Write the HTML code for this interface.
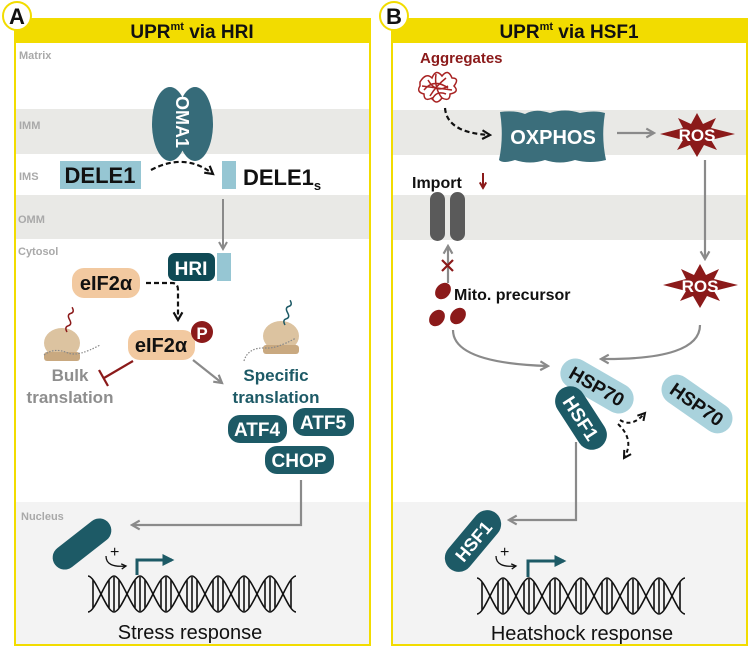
<!DOCTYPE html>
<html><head><meta charset="utf-8"><style>
html,body{margin:0;padding:0;background:#fff}
svg{display:block}
text{font-family:"Liberation Sans",Arial,sans-serif;font-weight:bold}
text.n{font-weight:normal}
</style></head><body>
<svg width="750" height="650" viewBox="0 0 750 650" xmlns="http://www.w3.org/2000/svg">
<defs>
<marker id="ag" viewBox="0 0 10 10" refX="8" refY="5" markerWidth="5" markerHeight="5" orient="auto"><path d="M1,1 L8,5 L1,9" fill="none" stroke="#8a8a8a" stroke-width="2"/></marker>
<marker id="ak" viewBox="0 0 10 10" refX="8" refY="5" markerWidth="5" markerHeight="5" orient="auto"><path d="M1,1 L8,5 L1,9" fill="none" stroke="#111" stroke-width="2"/></marker>
<marker id="at" viewBox="0 0 10 10" refX="8" refY="5" markerWidth="4" markerHeight="4" orient="auto"><path d="M0,0 L10,5 L0,10z" fill="#1d5a66"/></marker>
<marker id="ar" viewBox="0 0 10 10" refX="8" refY="5" markerWidth="4" markerHeight="4" orient="auto"><path d="M1,1 L8,5 L1,9" fill="none" stroke="#8b1a1a" stroke-width="2.5"/></marker>
<g id="dna" fill="none" stroke="#111" stroke-width="1.6">
<path d="M0,0 C8,0 18,36 26,36 C34,36 44,0 52,0 C60,0 70,36 78,36 C86,36 96,0 104,0 C112,0 122,36 130,36 C138,36 148,0 156,0 C164,0 174,36 182,36 C190,36 200,0 208,0"/>
<path d="M0,36 C8,36 18,0 26,0 C34,0 44,36 52,36 C60,36 70,0 78,0 C86,0 96,36 104,36 C112,36 122,0 130,0 C138,0 148,36 156,36 C164,36 174,0 182,0 C190,0 200,36 208,36"/>
<path d="M21,4V32M26,1V35M31,4V32M47,4V32M52,1V35M57,4V32M73,4V32M78,1V35M83,4V32M99,4V32M104,1V35M109,4V32M125,4V32M130,1V35M135,4V32M151,4V32M156,1V35M161,4V32M177,4V32M182,1V35M187,4V32M5,4V32M203,4V32"/>
</g>
<g id="ribo"><ellipse cx="0" cy="-2" rx="18" ry="15" fill="#dcc3a0"/><rect x="-18" y="7" width="36" height="9" rx="3" fill="#c9a980"/></g>
</defs>

<!-- Panel A -->
<rect x="15" y="19" width="355" height="626" fill="#fff" stroke="#f2dc00" stroke-width="2"/>
<rect x="16" y="109" width="353" height="45" fill="#e9e9e6"/>
<rect x="16" y="195" width="353" height="44" fill="#e9e9e6"/>
<rect x="16" y="502" width="353" height="142" fill="#f3f3f3"/>
<rect x="15" y="19" width="355" height="24" fill="#f2dc00"/>
<text x="192" y="38" font-size="19" text-anchor="middle" fill="#111">UPR<tspan font-size="11" dy="-8">mt</tspan><tspan dy="8"> via HRI</tspan></text>
<circle cx="17" cy="16" r="14" fill="#fff" stroke="#f2dc00" stroke-width="2"/>
<text x="17" y="24" font-size="22" text-anchor="middle" fill="#111">A</text>
<g fill="#a9a9a9" font-size="11"><text x="19" y="59">Matrix</text><text x="19" y="129">IMM</text><text x="19" y="180">IMS</text><text x="18" y="223">OMM</text><text x="18" y="255">Cytosol</text><text x="21" y="520">Nucleus</text></g>
<ellipse cx="170" cy="124" rx="18" ry="37" fill="#366b79"/><ellipse cx="195" cy="124" rx="18" ry="37" fill="#366b79"/>
<text x="0" y="0" font-size="18" fill="#fff" transform="translate(176,96) rotate(90)">OMA1</text>
<rect x="60" y="161" width="81" height="28" fill="#96c6d3"/>
<text x="100" y="183" font-size="22" text-anchor="middle" fill="#111">DELE1</text>
<path d="M151,170 Q185,152 213,174" fill="none" stroke="#111" stroke-width="2.2" stroke-dasharray="5,3" marker-end="url(#ak)"/>
<rect x="222" y="161" width="14" height="28" fill="#96c6d3"/>
<text x="243" y="185" font-size="22" fill="#111">DELE1<tspan font-size="13" dy="5">s</tspan></text>
<line x1="223" y1="199" x2="223" y2="249" stroke="#8a8a8a" stroke-width="2" marker-end="url(#ag)"/>
<rect x="168" y="253" width="47" height="28" rx="7" fill="#0f4a55"/>
<text x="191" y="275" font-size="19" text-anchor="middle" fill="#fff">HRI</text>
<rect x="217" y="253" width="14" height="28" fill="#96c6d3"/>
<rect x="72" y="268" width="68" height="30" rx="12" fill="#f2c9a0"/>
<text x="106" y="290" font-size="20" text-anchor="middle" fill="#111">eIF2α</text>
<path d="M146,283 H172 Q178,283 178,290 V320" fill="none" stroke="#111" stroke-width="2.2" stroke-dasharray="5,3" marker-end="url(#ak)"/>
<use href="#ribo" x="62" y="345"/>
<path d="M67,332 q3,-5 6,-2 q3,3 6,-2 q3,-5 6,-2 q3,3 6,-2" fill="none" stroke="#8b1a1a" stroke-width="1.5" transform="rotate(-60 67 332)"/>
<path d="M44,355 q10,-8 24,-2 q10,4 32,-8" fill="none" stroke="#888" stroke-width="1.2" stroke-dasharray="1.5,1.5"/>
<use href="#ribo" x="281" y="338"/>
<path d="M285,325 q3,-5 6,-2 q3,3 6,-2 q3,-5 6,-2 q3,3 6,-2" fill="none" stroke="#1d5a66" stroke-width="1.5" transform="rotate(-60 285 325)"/>
<path d="M244,361 q4,-14 22,-13 q10,1 30,-10" fill="none" stroke="#888" stroke-width="1.2" stroke-dasharray="1.5,1.5"/>
<rect x="128" y="330" width="67" height="30" rx="12" fill="#f2c9a0"/>
<text x="161" y="352" font-size="20" text-anchor="middle" fill="#111">eIF2α</text>
<circle cx="202" cy="332" r="11" fill="#8b1a1a"/>
<text x="202" y="339" font-size="17" text-anchor="middle" fill="#fff">P</text>
<line x1="133" y1="361" x2="104" y2="378" stroke="#8b1a1a" stroke-width="2.2"/>
<line x1="99" y1="370" x2="108" y2="386" stroke="#8b1a1a" stroke-width="2.2"/>
<line x1="193" y1="360" x2="222" y2="383" stroke="#8a8a8a" stroke-width="2.2" marker-end="url(#ag)"/>
<text x="70" y="381" font-size="17" text-anchor="middle" fill="#8e8e8e">Bulk</text>
<text x="70" y="403" font-size="17" text-anchor="middle" fill="#8e8e8e">translation</text>
<text x="276" y="381" font-size="17" text-anchor="middle" fill="#1d5a66">Specific</text>
<text x="276" y="403" font-size="17" text-anchor="middle" fill="#1d5a66">translation</text>
<rect x="228" y="415" width="59" height="28" rx="12" fill="#1d5a66"/><text x="257" y="436" font-size="19" text-anchor="middle" fill="#fff">ATF4</text>
<rect x="293" y="408" width="61" height="28" rx="12" fill="#1d5a66"/><text x="323" y="429" font-size="19" text-anchor="middle" fill="#fff">ATF5</text>
<rect x="265" y="446" width="69" height="28" rx="12" fill="#1d5a66"/><text x="299" y="467" font-size="19" text-anchor="middle" fill="#fff">CHOP</text>
<path d="M301,480 V525 H132" fill="none" stroke="#8a8a8a" stroke-width="2.2" marker-end="url(#ag)"/>
<rect x="48" y="532" width="68" height="24" rx="12" fill="#1d5a66" transform="rotate(-38 82 544)"/>
<text class="n" x="110" y="557" font-size="16" fill="#111">+</text>
<path d="M106,556 q0,12 20,10" fill="none" stroke="#111" stroke-width="1.3" marker-end="url(#ak)"/>
<path d="M137,575 V560 H172" fill="none" stroke="#1d5a66" stroke-width="3" marker-end="url(#at)"/>
<use href="#dna" x="88" y="576"/>
<text class="n" x="190" y="639" font-size="20" text-anchor="middle" fill="#111">Stress response</text>

<!-- Panel B -->
<rect x="392" y="19" width="355" height="626" fill="#fff" stroke="#f2dc00" stroke-width="2"/>
<rect x="393" y="110" width="353" height="45" fill="#e9e9e6"/>
<rect x="393" y="195" width="353" height="45" fill="#e9e9e6"/>
<rect x="393" y="502" width="353" height="142" fill="#f3f3f3"/>
<rect x="392" y="19" width="355" height="24" fill="#f2dc00"/>
<text x="569" y="38" font-size="19" text-anchor="middle" fill="#111">UPR<tspan font-size="11" dy="-8">mt</tspan><tspan dy="8"> via HSF1</tspan></text>
<circle cx="394" cy="16" r="14" fill="#fff" stroke="#f2dc00" stroke-width="2"/>
<text x="394" y="24" font-size="22" text-anchor="middle" fill="#111">B</text>
<text x="420" y="63" font-size="15" fill="#8b1a1a">Aggregates</text>
<g fill="none" stroke="#a82222" stroke-width="1.5">
<path d="M420,82 q6,-10 12,-4 q4,-10 10,-2 q6,-8 10,2 q8,0 2,8 q6,6 -4,8 q0,8 -8,4 q-6,8 -10,0 q-8,4 -8,-4 q-8,-2 -4,-8 z"/>
<path d="M424,90 q10,-12 24,-2 M428,80 q8,14 20,6 M436,74 q-2,14 6,24 M446,78 q-10,8 -16,18 M422,86 l30,4 M432,100 q4,-10 14,-6"/>
</g>
<path d="M445,108 Q447,133 490,135" fill="none" stroke="#111" stroke-width="2.2" stroke-dasharray="5,3" marker-end="url(#ak)"/>
<path d="M500,112 Q515,110 525,114 Q535,108 550,113 Q565,108 580,113 Q595,110 605,113 Q601,137 606,160 Q590,164 575,160 Q560,165 545,160 Q530,165 515,160 Q503,164 499,160 Q504,137 500,112 z" fill="#3b6e7b"/>
<text x="553" y="144" font-size="20" text-anchor="middle" fill="#fff">OXPHOS</text>
<line x1="617" y1="133" x2="654" y2="133" stroke="#8a8a8a" stroke-width="2.2" marker-end="url(#ag)"/>
<g id="ros"><polygon points="697,113 703,124 716,118 711,128 735,134 711,140 717,150 704,145 697,157 690,145 677,150 683,140 660,134 683,128 678,118 691,124" fill="#8b1a1a"/><text x="697" y="141" font-size="17" text-anchor="middle" fill="#fff">ROS</text></g>
<line x1="705" y1="160" x2="705" y2="259" stroke="#8a8a8a" stroke-width="2.2" marker-end="url(#ag)"/>
<use href="#ros" x="3" y="151"/>
<text x="412" y="188" font-size="16" fill="#111">Import</text>
<line x1="483" y1="173" x2="483" y2="188" stroke="#8b1a1a" stroke-width="2" marker-end="url(#ar)"/>
<rect x="430" y="192" width="15" height="49" rx="7.5" fill="#5a5a5a"/>
<rect x="450" y="192" width="15" height="49" rx="7.5" fill="#5a5a5a"/>
<line x1="448" y1="283" x2="448" y2="246" stroke="#8a8a8a" stroke-width="2.2" marker-end="url(#ag)"/>
<path d="M442,260 l11,11 M453,260 l-11,11" stroke="#8b1a1a" stroke-width="2.2"/>
<ellipse cx="443" cy="291" rx="7" ry="9" fill="#8b1a1a" transform="rotate(40 443 291)"/>
<ellipse cx="437" cy="318" rx="7" ry="9" fill="#8b1a1a" transform="rotate(40 437 318)"/>
<ellipse cx="458" cy="316" rx="7" ry="9" fill="#8b1a1a" transform="rotate(40 458 316)"/>
<text x="454" y="300" font-size="16" fill="#111">Mito. precursor</text>
<path d="M453,330 Q453,363 548,366" fill="none" stroke="#8a8a8a" stroke-width="2.2" marker-end="url(#ag)"/>
<path d="M700,325 Q700,360 601,359" fill="none" stroke="#8a8a8a" stroke-width="2.2" marker-end="url(#ag)"/>
<g transform="translate(597,386) rotate(30)"><rect x="-40" y="-15" width="80" height="30" rx="15" fill="#a9d2dc"/><text x="0" y="7" font-size="19" text-anchor="middle" fill="#111">HSP70</text></g>
<g transform="translate(581,418) rotate(57)"><rect x="-35" y="-15" width="70" height="30" rx="15" fill="#1d5a66"/><text x="0" y="7" font-size="19" text-anchor="middle" fill="#fff">HSF1</text></g>
<g transform="translate(697,404) rotate(35)"><rect x="-40" y="-15" width="80" height="30" rx="15" fill="#a9d2dc"/><text x="0" y="7" font-size="19" text-anchor="middle" fill="#111">HSP70</text></g>
<path d="M620,420 Q632,428 645,413" fill="none" stroke="#111" stroke-width="2" stroke-dasharray="4,3" marker-end="url(#ak)"/>
<path d="M618,424 Q635,440 624,458" fill="none" stroke="#111" stroke-width="2" stroke-dasharray="4,3" marker-end="url(#ak)"/>
<path d="M576,442 V520 H509" fill="none" stroke="#8a8a8a" stroke-width="2.2" marker-end="url(#ag)"/>
<g transform="translate(473,541) rotate(-50)"><rect x="-36" y="-14" width="72" height="28" rx="14" fill="#1d5a66"/><text x="0" y="7" font-size="18" text-anchor="middle" fill="#fff">HSF1</text></g>
<text class="n" x="500" y="557" font-size="16" fill="#111">+</text>
<path d="M496,556 q0,12 20,10" fill="none" stroke="#111" stroke-width="1.3" marker-end="url(#ak)"/>
<path d="M528,577 V561 H564" fill="none" stroke="#1d5a66" stroke-width="3" marker-end="url(#at)"/>
<use href="#dna" x="477" y="578"/>
<text class="n" x="582" y="640" font-size="20" text-anchor="middle" fill="#111">Heatshock response</text>
</svg>
</body></html>
